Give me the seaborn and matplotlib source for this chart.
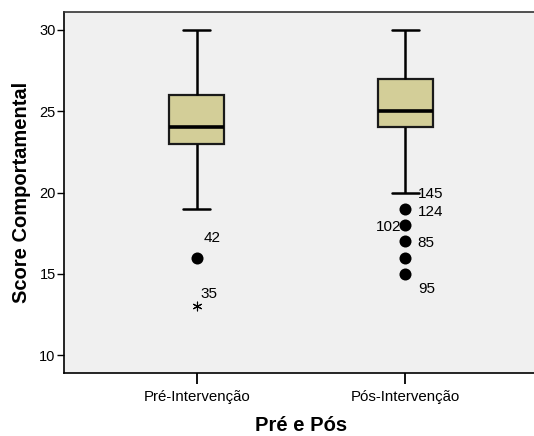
import matplotlib
matplotlib.use("Agg")
import matplotlib.pyplot as plt
import seaborn as sns
import pandas as pd

# --- data ---
groups = ["Pré-Intervenção", "Pós-Intervenção"]
# values inside whiskers (give min/Q1/median/Q3/max)
pre_values = [19, 23, 23, 24, 24, 24, 26, 26, 30]
post_values = [20, 24, 24, 25, 25, 25, 27, 27, 30]
# outliers
pre_outliers = [16]
pre_outlier_ids = ["42"]
pre_extremes = [13]
pre_extreme_ids = ["35"]
post_outliers = [19, 18, 17, 16, 15]
post_outlier_ids = ["124", "102", "85", "", "95"]
post_whisker_label_value = 20
post_whisker_label_id = "145"
yticks = [10, 15, 20, 25, 30]

sns.set_theme(style="white")
plt.rcParams["font.family"] = ["Liberation Sans", "DejaVu Sans"]
plt.rcParams["text.color"] = "black"
plt.rcParams["axes.labelcolor"] = "black"
plt.rcParams["xtick.color"] = "black"
plt.rcParams["ytick.color"] = "black"

df = pd.DataFrame({
    "grupo": [groups[0]] * len(pre_values) + [groups[1]] * len(post_values),
    "score": pre_values + post_values,
})

fig = plt.figure(figsize=(5.34, 4.36), dpi=100)
W, H = 534, 436
left, right, top, bottom = 64, 538, 12, 373
ax = fig.add_axes([left / W, 1 - bottom / H, (right - left) / W, (bottom - top) / H])
ax.set_facecolor("#F0F0F0")

line_kw = dict(color="black", linewidth=1.8)
sns.boxplot(data=df, x="grupo", y="score", order=groups, ax=ax,
            color="#D3CE98", saturation=1, width=0.263, whis=(0, 100),
            showfliers=False, linecolor="#1a1a1a", linewidth=1.6,
            whiskerprops=line_kw, capprops=line_kw,
            medianprops=dict(color="black", linewidth=2.6))

out_df = pd.DataFrame({
    "grupo": [groups[0]] * len(pre_outliers) + [groups[1]] * len(post_outliers),
    "score": pre_outliers + post_outliers,
})
sns.scatterplot(data=out_df, x="grupo", y="score", ax=ax, color="black",
                s=75, marker="o", edgecolor="black", linewidth=0, zorder=5)
ext_df = pd.DataFrame({"grupo": [groups[0]] * len(pre_extremes), "score": pre_extremes})
sns.scatterplot(data=ext_df, x="grupo", y="score", ax=ax, color="black",
                s=40, marker=(6, 2, 0), linewidth=0.8, zorder=5)

fs = 11
for v, lab in zip(pre_outliers, pre_outlier_ids):
    ax.annotate(lab, (0, v), xytext=(5, 11), textcoords="offset points", fontsize=fs)
for v, lab in zip(pre_extremes, pre_extreme_ids):
    ax.annotate(lab, (0, v), xytext=(3, 6), textcoords="offset points", fontsize=fs)
offsets = {"124": (9, -5, "left"), "102": (-3, -4, "right"), "85": (9, -4, "left"),
           "95": (9, -14, "left")}
for v, lab in zip(post_outliers, post_outlier_ids):
    if not lab:
        continue
    dx, dy, ha = offsets[lab]
    ax.annotate(lab, (1, v), xytext=(dx, dy), textcoords="offset points",
                fontsize=fs, ha=ha)
ax.annotate(post_whisker_label_id, (1, post_whisker_label_value), xytext=(9, -4),
            textcoords="offset points", fontsize=fs)

ax.set_xlim(-0.636, 1.636)
ax.set_ylim(8.9, 31.1)
ax.set_yticks(yticks)
ax.tick_params(axis="y", direction="out", length=5, width=1, color="black",
               labelsize=10.5, pad=1, left=True)
ax.tick_params(axis="x", direction="out", length=8, width=1.3, color="black",
               labelsize=10.8, pad=4, bottom=True)
for s in ax.spines.values():
    s.set_color("black")
    s.set_linewidth(1.2)
ax.spines["right"].set_visible(False)
ax.spines["top"].set_color("#333333")
ax.set_xlabel("Pré e Pós", fontsize=14.5, fontweight="bold", labelpad=9)
ax.set_ylabel("Score Comportamental", fontsize=14.5, fontweight="bold", labelpad=6)

fig.savefig("out.png", dpi=100)
